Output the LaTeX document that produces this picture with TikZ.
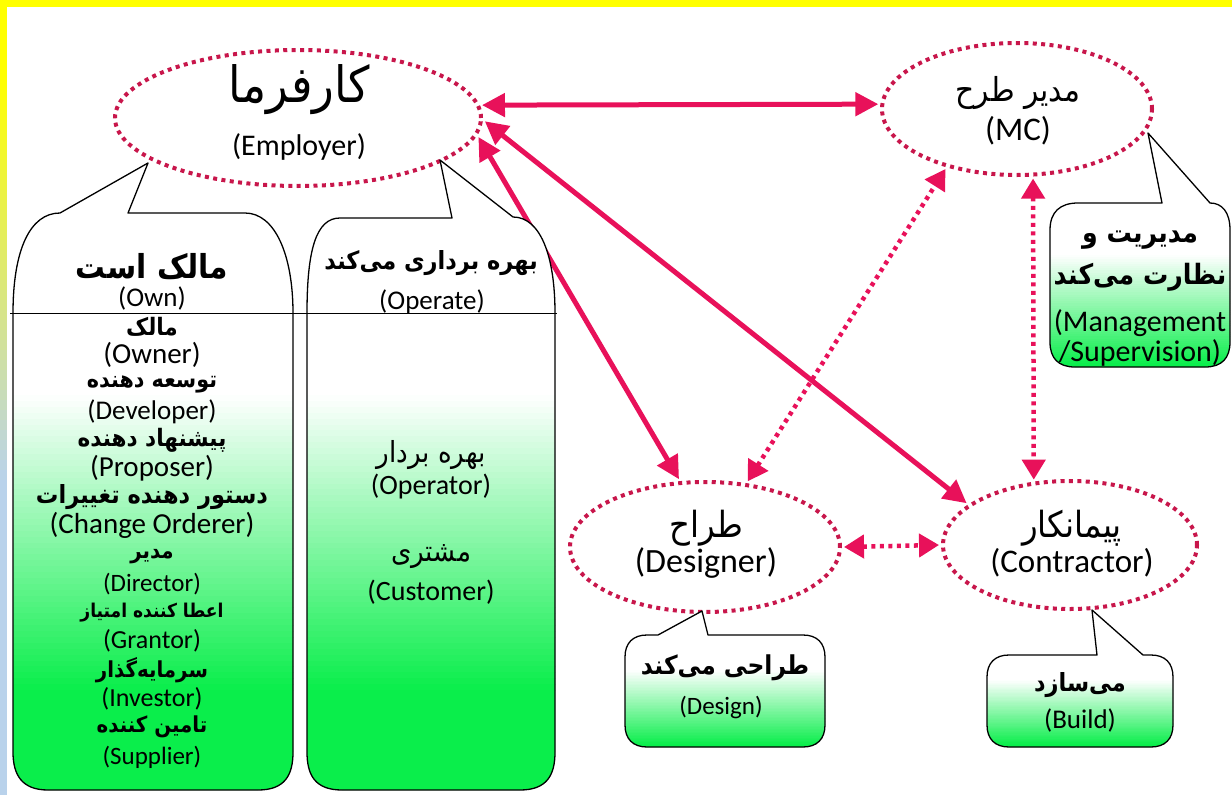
\documentclass[tikz,border=0pt]{standalone}
\usepackage{fontspec}
\setmainfont{Carlito}
\newfontfamily\fa[Script=Arabic,FakeStretch=0.9]{DejaVu Sans}
\TeXXeTstate=1
\usetikzlibrary{arrows.meta,shapes.geometric}

\definecolor{dotred}{RGB}{200,22,75}
\definecolor{arrred}{RGB}{232,17,90}
\definecolor{cgreen}{RGB}{10,238,75}
\definecolor{edgeyellow}{RGB}{255,255,0}
\definecolor{edgeblue}{RGB}{185,210,235}

\newcommand\fs[1]{\fontsize{#1}{#1}\selectfont}
\newcommand\rtl[1]{\fa\beginR #1\endR}
% white-to-green vertical fade built from thin bands:
% #1,#2 left/right x, #3 y where white ends, #4 y where full green starts
\newcommand\greenfade[4]{%
  \foreach \k in {0,...,49}{%
    \pgfmathsetmacro\pp{(\k+0.5)*2}%
    \fill[cgreen!\pp!white] (#1,{#3+\k*(#4-#3)/50}) rectangle (#2,{#3+(\k+1)*(#4-#3)/50+0.6});}%
  \fill[cgreen] (#1,#4) rectangle (#2,800);}

\begin{document}
\begin{tikzpicture}[x=1pt,y=-1pt,
  actor/.style={ellipse, draw=dotred, line width=4pt, dash pattern=on 4pt off 4.4pt,
                inner sep=0pt, outer sep=4pt},
  link/.style={arrred, line width=5pt,
               {Triangle[length=23pt,width=23pt]}-{Triangle[length=23pt,width=23pt]}},
  dlink/.style={arrred, line width=4.5pt, dash pattern=on 4pt off 4.5pt,
               {Triangle[length=20pt,width=23pt]}-{Triangle[length=20pt,width=23pt]}},
  callout/.style={draw=black, line width=1.3pt, fill=white, line join=round},
  lbl/.style={inner sep=0pt, align=center, text=black}]

\useasboundingbox (0,0) rectangle (1232,795);
\fill[white] (0,0) rectangle (1232,795);

% frame strips along the top and the left side
\fill[edgeyellow] (0,0) rectangle (1232,7);
\fill[edgeyellow] (0,0) rectangle (7,80);
\foreach \k in {0,...,39}{%
  \pgfmathsetmacro\pp{(\k+0.5)*2.5}%
  \fill[edgeblue!\pp!edgeyellow] (0,{80+\k*10}) rectangle (7,{90.6+\k*10});}
\fill[edgeblue] (0,480) rectangle (7,795);

% ---------- parties ----------
\node[actor, minimum width=366pt, minimum height=136pt] (emp) at (298,118) {};
\node[actor, minimum width=270pt, minimum height=132pt] (mc)  at (1017,109) {};
\node[actor, minimum width=270pt, minimum height=130pt] (des) at (705,547) {};
\node[actor, minimum width=254pt, minimum height=128pt] (con) at (1070,545) {};

\node[lbl] (empfa) at (299,90)  {\fs{50}\rtl{کارفرما}};
\node[lbl] (empen) at (299,147) {\fs{30}(Employer)};
\node[lbl] (mcfa)  at (1018,93) {\fs{33}\rtl{مدیر طرح}};
\node[lbl] (mcen)  at (1018,131){\fs{33}(MC)};
\node[lbl] (desfa) at (706,528) {\fs{36}\rtl{طراح}};
\node[lbl] (desen) at (706,563) {\fs{34}(Designer)};
\node[lbl] (confa) at (1072,528){\fs{36}\rtl{پیمانکار}};
\node[lbl] (conen) at (1072,563){\fs{33}(Contractor)};

% ---------- relations ----------
\draw[link]  (emp.4)    -- (mc.178);
\draw[link]  (emp.-1.5) -- (con.158);
\draw[link]  (emp.-6)   -- (des.111);
\draw[dlink] (des.57)   -- (mc.220);
\draw[dlink] (mc.-77)   -- (con.119.6);
\draw[dlink] (des.0)    -- (con.180);

% ---------- employer roles: owns ----------
\draw[callout, path picture={\greenfade{0}{600}{395}{690}}]
  (13,313) .. controls (13,250) and (30,213) .. (60,213) -- (148,163) -- (128,213)
  -- (245,213) .. controls (275,213) and (293,255) .. (293,313) -- (293,752)
  .. controls (293,775) and (285,790) .. (258,790) -- (48,790)
  .. controls (22,790) and (13,775) .. (13,752) -- cycle;

% ---------- employer roles: operates ----------
\draw[callout, path picture={\greenfade{0}{600}{395}{690}}]
  (307,313) .. controls (307,250) and (316,218) .. (340,218) -- (452,218) -- (440,160)
  -- (513,217) .. controls (540,217) and (555,255) .. (555,313) -- (555,752)
  .. controls (555,775) and (547,790) .. (520,790) -- (342,790)
  .. controls (315,790) and (307,775) .. (307,752) -- cycle;

\draw[line width=1pt] (10,313) -- (557,313);

\node[lbl] (ownt)  at (152,267) {\fs{33}\bfseries\rtl{مالک است}};
\node[lbl] (ownen) at (152,298) {\fs{27}(Own)};
\node[lbl] (o1)  at (152,327) {\fs{24}\bfseries\rtl{مالک}};
\node[lbl] (o2)  at (152,355) {\fs{29}(Owner)};
\node[lbl] (o3)  at (152,384) {\fs{23}\bfseries\rtl{توسعه دهنده}};
\node[lbl] (o4)  at (152,412) {\fs{27}(Developer)};
\node[lbl] (o5)  at (152,440) {\fs{24}\bfseries\rtl{پیشنهاد دهنده}};
\node[lbl] (o6)  at (152,468) {\fs{29}(Proposer)};
\node[lbl] (o7)  at (152,497) {\fs{25}\bfseries\rtl{دستور دهنده تغییرات}};
\node[lbl] (o8)  at (152,525) {\fs{29}(Change Orderer)};
\node[lbl] (o9)  at (152,557) {\fs{22}\bfseries\rtl{مدیر}};
\node[lbl] (o10) at (152,584) {\fs{25}(Director)};
\node[lbl] (o11) at (152,613) {\fs{19}\bfseries\rtl{اعطا کننده امتیاز}};
\node[lbl] (o12) at (152,641) {\fs{26}(Grantor)};
\node[lbl] (o13) at (152,670) {\fs{22}\bfseries\rtl{سرمایه‌گذار}};
\node[lbl] (o14) at (152,699) {\fs{26}(Investor)};
\node[lbl] (o15) at (152,727) {\fs{22}\bfseries\rtl{تامین کننده}};
\node[lbl] (o16) at (152,757) {\fs{25}(Supplier)};

\node[lbl] (opt)  at (431,263) {\fs{25}\bfseries\rtl{بهره برداری می‌کند}};
\node[lbl] (open) at (432,302) {\fs{27}(Operate)};
\node[lbl] (p1) at (431,455) {\fs{29}\rtl{بهره بردار}};
\node[lbl] (p2) at (431,487) {\fs{28}(Operator)};
\node[lbl] (p3) at (431,557) {\fs{29}\rtl{مشتری}};
\node[lbl] (p4) at (431,592) {\fs{28}(Customer)};

% ---------- project manager task ----------
\draw[callout, path picture={\greenfade{1000}{1240}{255}{365}}]
  (1050,230) .. controls (1050,212) and (1060,203) .. (1078,203) -- (1162,203) -- (1148,133)
  -- (1210,203) .. controls (1222,203) and (1230,212) .. (1230,230) -- (1230,342)
  .. controls (1230,358) and (1222,367) .. (1205,367) -- (1075,367)
  .. controls (1058,367) and (1050,358) .. (1050,342) -- cycle;
\node[lbl] (m1) at (1140,240) {\fs{28}\bfseries\rtl{مدیریت و}};
\node[lbl] (m2) at (1140,277) {\fs{28}\bfseries\rtl{نظارت می‌کند}};
\node[lbl] (m3) at (1140,323) {\fs{30}(Management};
\node[lbl] (m4) at (1140,353) {\fs{30}/Supervision)};

% ---------- designer task ----------
\draw[callout, path picture={\greenfade{600}{850}{670}{745}}]
  (625,657) .. controls (625,643) and (633,635) .. (647,635) -- (658,635) -- (702,611)
  -- (708,635) -- (803,635) .. controls (817,635) and (825,643) .. (825,657) -- (825,725)
  .. controls (825,739) and (817,747) .. (803,747) -- (647,747)
  .. controls (633,747) and (625,739) .. (625,725) -- cycle;
\node[lbl] (d1) at (725,668) {\fs{26}\bfseries\rtl{طراحی می‌کند}};
\node[lbl] (d2) at (721,707) {\fs{25}(Design)};

% ---------- contractor task ----------
\draw[callout, path picture={\greenfade{980}{1180}{680}{745}}]
  (987,677) .. controls (987,663) and (995,655) .. (1009,655) -- (1097,655) -- (1092,610)
  -- (1143,655) -- (1151,655) .. controls (1165,655) and (1173,663) .. (1173,677) -- (1173,725)
  .. controls (1173,739) and (1165,747) .. (1151,747) -- (1009,747)
  .. controls (995,747) and (987,739) .. (987,725) -- cycle;
\node[lbl] (c1) at (1080,685) {\fs{25}\bfseries\rtl{می‌سازد}};
\node[lbl] (c2) at (1080,720) {\fs{27}(Build)};

\end{tikzpicture}
\end{document}
